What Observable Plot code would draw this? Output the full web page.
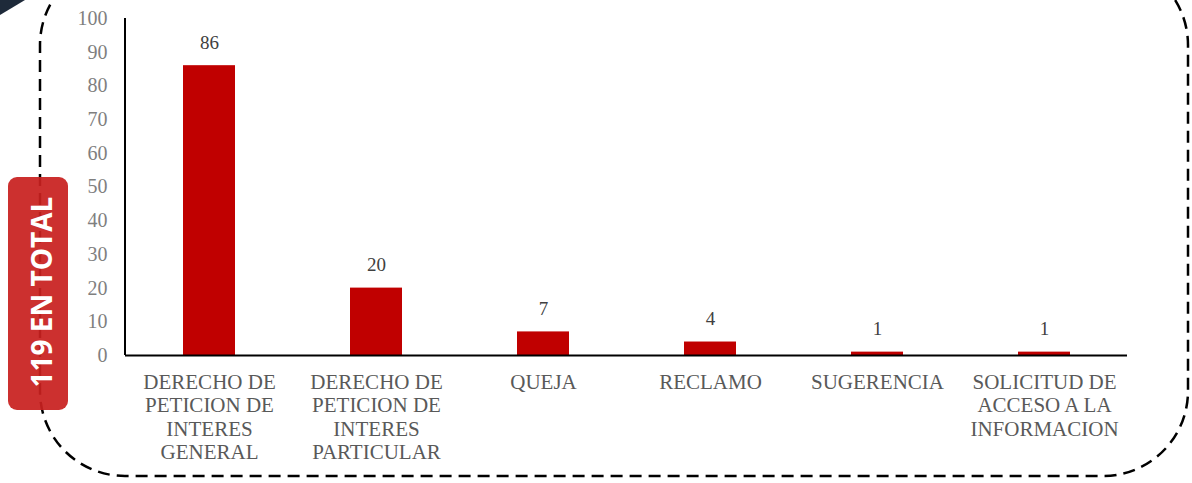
<!DOCTYPE html>
<html>
<head>
<meta charset="utf-8">
<script src="https://cdn.jsdelivr.net/npm/d3@7"></script>
<script src="https://cdn.jsdelivr.net/npm/@observablehq/plot@0.6"></script>
<style>
  html, body { margin: 0; padding: 0; background: #fff; }
  #chart { position: relative; width: 1192px; height: 483px; overflow: hidden; }
</style>
</head>
<body>
<div id="chart"></div>
<script>
const categories = [
  "DERECHO DE\nPETICION DE\nINTERES\nGENERAL",
  "DERECHO DE\nPETICION DE\nINTERES\nPARTICULAR",
  "QUEJA",
  "RECLAMO",
  "SUGERENCIA",
  "SOLICITUD DE\nACCESO A LA\nINFORMACION"
];
const values = [86, 20, 7, 4, 1, 1];
const yTicks = [0, 10, 20, 30, 40, 50, 60, 70, 80, 90, 100];
const totalLabel = "119 EN TOTAL";

const data = categories.map((c, i) => ({cat: c, val: values[i]}));

const plot = Plot.plot({
  width: 1192,
  height: 483,
  marginLeft: 125,
  marginRight: 65,
  marginTop: 18,
  marginBottom: 128,
  style: {fontFamily: "'Liberation Serif', serif", background: "transparent", overflow: "visible"},
  x: {domain: categories, paddingInner: 0.69, paddingOuter: 0.345, label: null},
  y: {domain: [0, 100], label: null},
  marks: [
    Plot.barY(data, {x: "cat", y: "val", fill: "#C00000"}),
    Plot.text(data, {x: "cat", y: "val", text: d => String(d.val), dy: -23, fill: "#404040", fontSize: 19}),
    Plot.ruleY([0], {stroke: "#000", strokeWidth: 2}),
    Plot.axisY({ticks: yTicks, tickSize: 0, tickPadding: 18, fontSize: 20, fill: "#7f7f7f", label: null}),
    Plot.axisX({tickSize: 0, tickPadding: 17, fontSize: 21, lineHeight: 1.11, fill: "#595959", label: null})
  ]
});

const svg = d3.select(plot);
// vertical axis line
const ys = plot.scale("y");
const x0 = 125;
svg.insert("line", ":first-child")
  .attr("x1", x0).attr("x2", x0)
  .attr("y1", ys.apply(100)).attr("y2", ys.apply(0))
  .attr("stroke", "#000").attr("stroke-width", 2);

// decorations (behind chart)
const deco = svg.insert("g", ":first-child");
deco.append("polygon")
  .attr("points", "0,0 25,0 0,15")
  .attr("fill", "#1e2a3a");
deco.append("rect")
  .attr("x", 40).attr("y", -40).attr("width", 1148).attr("height", 516)
  .attr("rx", 85).attr("ry", 85)
  .attr("fill", "none").attr("stroke", "#000")
  .attr("stroke-width", 2.5).attr("stroke-dasharray", "12 7");

// badge
const badge = svg.append("g");
badge.append("rect")
  .attr("x", 8).attr("y", 177).attr("width", 60).attr("height", 233)
  .attr("rx", 9).attr("ry", 9)
  .attr("fill", "#C8201F").attr("fill-opacity", 0.93);
badge.append("text")
  .attr("transform", "translate(41,292) rotate(-90)")
  .attr("text-anchor", "middle")
  .attr("dominant-baseline", "central")
  .attr("fill", "#fff")
  .attr("font-family", "'Open Sans', sans-serif")
  .attr("font-weight", "bold")
  .attr("font-size", 28)
  .text(totalLabel);

document.getElementById("chart").appendChild(plot);
</script>
</body>
</html>
